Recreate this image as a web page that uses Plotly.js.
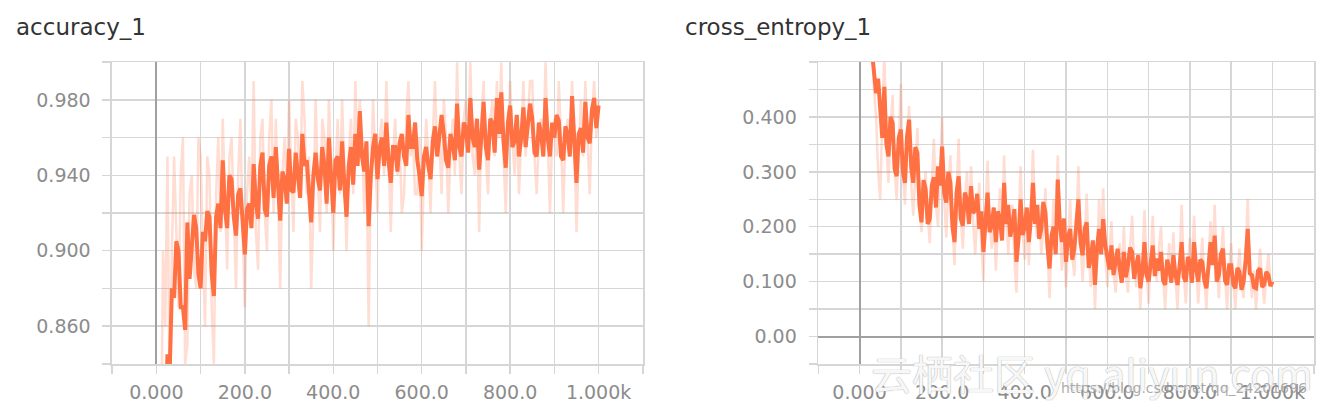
<!DOCTYPE html>
<html>
<head>
<meta charset="utf-8">
<script src="https://cdn.plot.ly/plotly-3.0.1.min.js"></script>
<style>
  html, body { margin: 0; padding: 0; background: #ffffff; }
  #chart { width: 1325px; height: 409px; }
</style>
</head>
<body>
<div id="chart"></div>
<script>
// ---- data ----
const steps = [
  0,5,10,15,20,25,30,35,40,45,50,55,60,65,70,75,80,85,90,95,
  100,105,110,115,120,125,130,135,140,145,150,155,160,165,170,175,180,185,190,195,
  200,205,210,215,220,225,230,235,240,245,250,255,260,265,270,275,280,285,290,295,
  300,305,310,315,320,325,330,335,340,345,350,355,360,365,370,375,380,385,390,395,
  400,405,410,415,420,425,430,435,440,445,450,455,460,465,470,475,480,485,490,495,
  500,505,510,515,520,525,530,535,540,545,550,555,560,565,570,575,580,585,590,595,
  600,605,610,615,620,625,630,635,640,645,650,655,660,665,670,675,680,685,690,695,
  700,705,710,715,720,725,730,735,740,745,750,755,760,765,770,775,780,785,790,795,
  800,805,810,815,820,825,830,835,840,845,850,855,860,865,870,875,880,885,890,895,
  900,905,910,915,920,925,930,935,940,945,950,955,960,965,970,975,980,985,990,995,
  1000];

const accuracySmoothed = [
  0.600,0.680,0.720,0.790,0.800,0.845,0.835,0.880,0.875,0.905,0.900,0.870,0.870,0.858,0.915,0.885,0.900,0.919,0.912,0.888,
  0.880,0.910,0.905,0.921,0.918,0.888,0.876,0.918,0.925,0.912,0.948,0.922,0.912,0.940,0.938,0.918,0.908,0.930,0.933,0.912,
  0.898,0.922,0.925,0.912,0.946,0.925,0.917,0.945,0.952,0.922,0.918,0.945,0.950,0.928,0.955,0.935,0.916,0.942,0.938,0.925,
  0.954,0.932,0.931,0.952,0.940,0.928,0.962,0.945,0.948,0.932,0.915,0.940,0.952,0.938,0.932,0.955,0.945,0.925,0.960,0.940,
  0.920,0.948,0.950,0.932,0.958,0.935,0.918,0.945,0.955,0.935,0.962,0.945,0.974,0.950,0.942,0.958,0.913,0.940,0.955,0.962,
  0.938,0.955,0.960,0.945,0.968,0.948,0.936,0.955,0.955,0.942,0.957,0.962,0.950,0.945,0.972,0.955,0.955,0.968,0.948,0.940,
  0.929,0.950,0.955,0.945,0.938,0.958,0.966,0.950,0.960,0.972,0.962,0.948,0.944,0.962,0.957,0.948,0.978,0.955,0.950,0.968,
  0.965,0.952,0.981,0.960,0.955,0.970,0.943,0.962,0.979,0.955,0.948,0.970,0.968,0.952,0.981,0.962,0.984,0.958,0.944,0.968,
  0.977,0.955,0.958,0.972,0.950,0.960,0.976,0.955,0.968,0.978,0.970,0.952,0.950,0.968,0.962,0.950,0.981,0.960,0.950,0.968,
  0.960,0.972,0.969,0.950,0.948,0.966,0.962,0.950,0.982,0.958,0.936,0.962,0.965,0.952,0.979,0.960,0.957,0.975,0.981,0.965,
  0.977];

const accuracyRaw = [
  0.55,0.70,0.78,0.90,0.86,0.95,0.82,0.90,0.95,0.91,0.87,0.94,0.96,0.84,0.85,0.93,0.94,0.89,0.88,0.96,
  0.95,0.90,0.86,0.95,0.94,0.87,0.84,0.93,0.96,0.91,0.97,0.93,0.89,0.95,0.96,0.92,0.88,0.94,0.97,0.91,
  0.87,0.93,0.95,0.92,0.99,0.91,0.89,0.96,0.97,0.92,0.90,0.96,0.98,0.92,0.97,0.93,0.88,0.94,0.96,0.93,
  0.98,0.94,0.91,0.97,0.96,0.93,0.99,0.97,0.93,0.95,0.88,0.92,0.98,0.94,0.91,0.97,0.96,0.92,0.98,0.95,
  0.90,0.94,0.97,0.93,0.98,0.94,0.90,0.95,0.97,0.93,0.99,0.95,0.98,0.96,0.92,0.95,0.86,0.94,0.98,0.95,
  0.92,0.96,0.97,0.94,0.99,0.95,0.91,0.95,0.97,0.94,0.96,0.92,0.93,0.97,0.99,0.95,0.96,0.93,0.93,0.96,
  0.90,0.94,0.97,0.95,0.92,0.96,0.99,0.95,0.96,0.93,0.98,0.96,0.92,0.95,0.97,0.94,1.00,0.95,0.93,0.97,
  0.98,0.96,1.00,0.95,0.94,0.97,0.91,0.97,0.99,0.95,0.93,0.97,0.98,0.95,0.99,0.96,1.00,0.95,0.92,0.96,
  0.99,0.96,0.94,0.97,0.93,0.96,0.99,0.95,0.97,0.99,0.99,0.95,0.93,0.96,0.97,0.95,1.00,0.96,0.92,0.96,
  0.97,0.95,0.99,0.96,0.92,0.96,0.97,0.95,0.99,0.96,0.91,0.95,0.98,0.95,0.99,0.96,0.93,0.97,0.99,0.96,
  0.98];

const entropySmoothed = [
  1.100,0.900,0.820,0.680,0.620,0.540,0.520,0.470,0.443,0.470,0.400,0.362,0.455,0.350,0.328,0.400,0.389,0.305,0.292,0.362,
  0.377,0.300,0.280,0.365,0.395,0.310,0.280,0.345,0.334,0.240,0.208,0.285,0.268,0.205,0.214,0.275,0.290,0.235,0.310,0.275,
  0.346,0.262,0.244,0.300,0.280,0.200,0.172,0.262,0.292,0.215,0.202,0.262,0.250,0.205,0.274,0.225,0.230,0.260,0.196,0.228,
  0.154,0.225,0.262,0.190,0.202,0.235,0.172,0.228,0.215,0.175,0.280,0.205,0.240,0.182,0.202,0.232,0.136,0.178,0.250,0.185,
  0.200,0.235,0.172,0.215,0.280,0.205,0.240,0.178,0.196,0.245,0.226,0.165,0.124,0.185,0.200,0.150,0.286,0.205,0.172,0.215,
  0.136,0.182,0.196,0.140,0.160,0.205,0.250,0.172,0.148,0.196,0.208,0.125,0.142,0.175,0.094,0.160,0.196,0.150,0.214,0.168,
  0.148,0.122,0.166,0.112,0.136,0.160,0.124,0.098,0.154,0.108,0.130,0.162,0.154,0.105,0.130,0.148,0.088,0.118,0.172,0.112,
  0.100,0.138,0.166,0.110,0.142,0.120,0.154,0.102,0.094,0.140,0.124,0.098,0.148,0.112,0.094,0.128,0.172,0.108,0.100,0.145,
  0.136,0.098,0.172,0.125,0.100,0.140,0.136,0.102,0.088,0.128,0.172,0.130,0.184,0.100,0.112,0.150,0.160,0.102,0.094,0.130,
  0.130,0.095,0.088,0.125,0.118,0.085,0.100,0.140,0.196,0.115,0.112,0.090,0.088,0.120,0.124,0.090,0.095,0.118,0.112,0.092,
  0.100];

const entropyRaw = [
  1.50,1.10,0.90,0.80,0.70,0.60,0.55,0.45,0.40,0.30,0.25,0.40,0.52,0.35,0.28,0.38,0.44,0.30,0.25,0.36,
  0.46,0.30,0.24,0.36,0.42,0.28,0.22,0.30,0.38,0.25,0.19,0.26,0.30,0.22,0.17,0.28,0.36,0.24,0.20,0.31,
  0.40,0.25,0.18,0.27,0.33,0.20,0.13,0.26,0.36,0.22,0.16,0.25,0.30,0.22,0.31,0.21,0.15,0.22,0.28,0.17,
  0.10,0.22,0.32,0.21,0.16,0.22,0.12,0.20,0.27,0.18,0.33,0.22,0.15,0.22,0.24,0.14,0.08,0.20,0.31,0.19,
  0.14,0.21,0.13,0.24,0.34,0.22,0.18,0.24,0.15,0.20,0.27,0.16,0.07,0.17,0.25,0.18,0.33,0.20,0.12,0.18,
  0.09,0.17,0.25,0.15,0.11,0.20,0.31,0.18,0.10,0.17,0.26,0.15,0.09,0.16,0.05,0.14,0.25,0.17,0.27,0.15,
  0.09,0.15,0.21,0.12,0.08,0.14,0.17,0.10,0.20,0.11,0.08,0.16,0.22,0.13,0.09,0.15,0.05,0.14,0.23,0.12,
  0.06,0.14,0.22,0.13,0.10,0.16,0.20,0.11,0.05,0.12,0.17,0.10,0.19,0.11,0.05,0.14,0.24,0.12,0.06,0.13,
  0.18,0.12,0.22,0.13,0.06,0.12,0.18,0.10,0.05,0.14,0.21,0.15,0.24,0.13,0.07,0.14,0.20,0.11,0.05,0.12,
  0.17,0.10,0.05,0.11,0.16,0.10,0.07,0.15,0.25,0.13,0.07,0.12,0.05,0.11,0.16,0.10,0.06,0.11,0.15,0.10,
  0.09];

const xTickVals = [0,200,400,600,800,1000];
const xTickText = ["0.000","200.0","400.0","600.0","800.0","1.000k"];
const accTickVals = [0.86,0.90,0.94,0.98];
const accTickText = ["0.860","0.900","0.940","0.980"];
const ceTickVals = [0,0.1,0.2,0.3,0.4];
const ceTickText = ["0.00","0.100","0.200","0.300","0.400"];
const panelTitles = ["accuracy_1","cross_entropy_1"];
const watermark = "云栖社区 yq.aliyun.com";
const watermarkUrl = "https://blog.csdn.net/qq_24201696";

// ---- styling ----
const ORANGE = '#ff7043';
const ORANGE_FAINT = 'rgba(255,112,67,0.24)';
const GRID = '#d6d6d6';
const ZERO = '#a0a0a0';
const TICKFONT = {family: 'DejaVu Sans, Liberation Sans, sans-serif', size: 19, color: '#8c8c8c'};

function xAxis(domain, anchor) {
  return {
    domain: domain, anchor: anchor,
    range: [-100.5, 1100.5],
    tickmode: 'array', tickvals: xTickVals, ticktext: xTickText,
    ticks: 'outside', ticklen: 8, tickwidth: 1.5, tickcolor: GRID,
    showgrid: true, gridcolor: GRID, gridwidth: 1.5,
    minor: {tickmode: 'linear', tick0: 0, dtick: 100, showgrid: true, gridcolor: GRID, gridwidth: 1.5,
            ticks: 'outside', ticklen: 8, tickwidth: 1.5, tickcolor: GRID},
    zeroline: true, zerolinecolor: ZERO, zerolinewidth: 2,
    showline: true, mirror: true, linecolor: GRID, linewidth: 1.5,
    tickfont: TICKFONT, ticklabelstandoff: 3,
    fixedrange: true
  };
}
function yAxis(range, vals, text, dminor, anchor) {
  return {
    domain: [0.110, 0.8484], anchor: anchor,
    range: range,
    tickmode: 'array', tickvals: vals, ticktext: text,
    ticks: 'outside', ticklen: 8, tickwidth: 1.5, tickcolor: GRID,
    showgrid: true, gridcolor: GRID, gridwidth: 1.5,
    minor: {tickmode: 'linear', tick0: 0, dtick: dminor, showgrid: true, gridcolor: GRID, gridwidth: 1.5,
            ticks: 'outside', ticklen: 8, tickwidth: 1.5, tickcolor: GRID},
    zeroline: true, zerolinecolor: ZERO, zerolinewidth: 2,
    showline: true, mirror: true, linecolor: GRID, linewidth: 1.5,
    tickfont: TICKFONT, ticklabelstandoff: 8,
    fixedrange: true
  };
}

const traces = [
  {x: steps, y: accuracyRaw, xaxis: 'x', yaxis: 'y', mode: 'lines', line: {color: ORANGE_FAINT, width: 2.5}},
  {x: steps, y: accuracySmoothed, xaxis: 'x', yaxis: 'y', mode: 'lines', line: {color: ORANGE, width: 4}},
  {x: steps, y: entropyRaw, xaxis: 'x2', yaxis: 'y2', mode: 'lines', line: {color: ORANGE_FAINT, width: 2.5}},
  {x: steps, y: entropySmoothed, xaxis: 'x2', yaxis: 'y2', mode: 'lines', line: {color: ORANGE, width: 4}}
];

const layout = {
  width: 1325, height: 409,
  margin: {l: 0, r: 0, t: 0, b: 0},
  paper_bgcolor: '#ffffff', plot_bgcolor: '#ffffff',
  showlegend: false, hovermode: false,
  xaxis: xAxis([0.0845, 0.4853], 'y'),
  yaxis: yAxis([0.8399, 1.0001], accTickVals, accTickText, 0.02, 'x'),
  xaxis2: xAxis([0.6174, 0.9917], 'y2'),
  yaxis2: yAxis([-0.0501, 0.5001], ceTickVals, ceTickText, 0.05, 'x2'),
  annotations: [
    {text: panelTitles[0], xref: 'paper', yref: 'paper', x: 14/1325, y: 0.934, xanchor: 'left', yanchor: 'middle',
     showarrow: false, font: {family: 'DejaVu Sans, sans-serif', size: 23, color: '#333333'}},
    {text: panelTitles[1], xref: 'paper', yref: 'paper', x: 683/1325, y: 0.934, xanchor: 'left', yanchor: 'middle',
     showarrow: false, font: {family: 'DejaVu Sans, sans-serif', size: 23, color: '#333333'}},
    {text: watermark, xref: 'paper', yref: 'paper', x: 1092/1325, y: (409-372)/409, xanchor: 'center', yanchor: 'middle',
     showarrow: false, font: {family: 'Noto Sans CJK SC, sans-serif', size: 41, color: 'rgba(255,255,255,0.92)',
     shadow: '0 0 1px #b0b0b0, 0 0 1px #b0b0b0'}},
    {text: watermarkUrl, xref: 'paper', yref: 'paper', x: 1184/1325, y: (409-388)/409, xanchor: 'center', yanchor: 'middle',
     showarrow: false, font: {family: 'DejaVu Sans, sans-serif', size: 14, color: 'rgba(150,150,150,0.8)'}}
  ]
};

Plotly.newPlot('chart', traces, layout, {staticPlot: true, displayModeBar: false});
</script>
</body>
</html>
